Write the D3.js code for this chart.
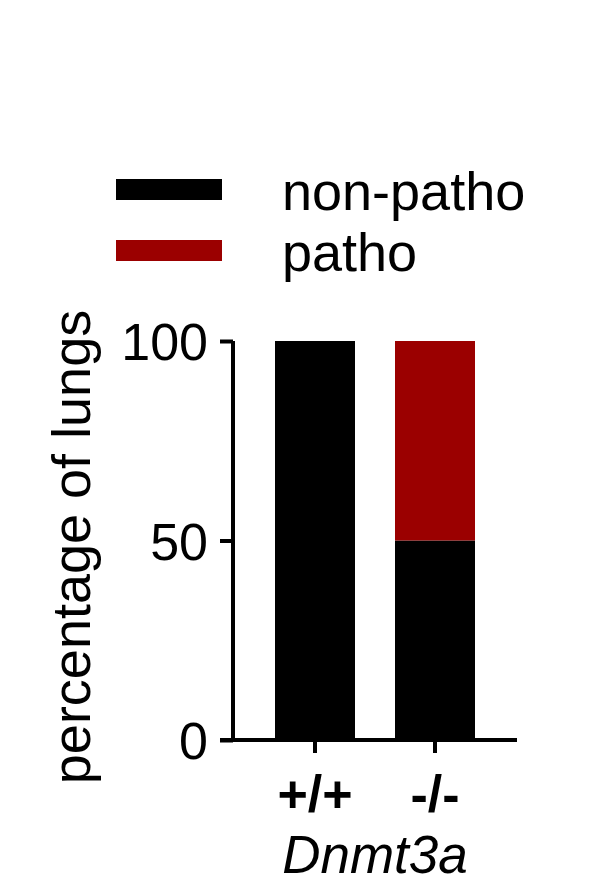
<!DOCTYPE html>
<html>
<head>
<meta charset="utf-8">
<script src="https://cdn.jsdelivr.net/npm/d3@7"></script>
<style>
  body { margin: 0; background: #fff; }
  text { font-family: "Liberation Sans", Arial, sans-serif; fill: #000; }
</style>
</head>
<body>
<svg id="chart" width="595" height="891"></svg>
<script>
const genotypes = ["+/+", "-/-"];
const nonPatho = [100, 50];
const patho = [0, 50];
const yTicks = [0, 50, 100];
const seriesNames = ["non-patho", "patho"];
const seriesColors = ["#000000", "#9b0000"];

const svg = d3.select('#chart');
const fontSize = 52;
const titleSize = 54;

const y = d3.scaleLinear().domain([0, 100]).range([740, 341]);
const x = d3.scaleBand().domain(genotypes).range([255, 495])
  .paddingInner(1/3).paddingOuter(1/6);

// stacked bars
const rows = genotypes.map((g, i) => ({ g, np: nonPatho[i], p: patho[i] }));
const stack = d3.stack().keys(['np', 'p'])(rows);

stack.forEach((layer, li) => {
  svg.append('g').selectAll('rect').data(layer).enter().append('rect')
    .attr('x', d => x(d.data.g))
    .attr('width', x.bandwidth())
    .attr('y', d => y(d[1]))
    .attr('height', d => y(d[0]) - y(d[1]))
    .attr('fill', seriesColors[li]);
});

// y axis
const yAxis = svg.append('g').attr('transform', 'translate(233,0)')
  .call(d3.axisLeft(y).tickValues(yTicks).tickSize(13).tickPadding(12));
yAxis.select('.domain').attr('d', `M0,${y(100)}V${y(0)}`);
yAxis.selectAll('path,line').attr('stroke', '#000').attr('stroke-width', 4);
yAxis.selectAll('text').attr('font-size', fontSize)
  .style('font-family', '"Liberation Sans", Arial, sans-serif').attr('dy', '0.36em');

// x axis
const xAxis = svg.append('g').attr('transform', `translate(0,${y(0)})`)
  .call(d3.axisBottom(x).tickSize(13).tickPadding(22));
xAxis.select('.domain').attr('d', 'M220,0H517');
xAxis.selectAll('path,line').attr('stroke', '#000').attr('stroke-width', 4);
xAxis.selectAll('text').attr('font-size', fontSize).attr('font-weight', 'bold')
  .style('font-family', '"Liberation Sans", Arial, sans-serif');

// x title
svg.append('text').attr('x', 375).attr('y', 873)
  .attr('text-anchor', 'middle').attr('font-size', fontSize + 1)
  .attr('font-style', 'italic').text('Dnmt3a');

// y title
svg.append('text').attr('transform', 'translate(90,547) rotate(-90)')
  .attr('text-anchor', 'middle').attr('font-size', titleSize)
  .text('percentage of lungs');

// legend
const legendY = [190, 251];
seriesNames.forEach((name, i) => {
  svg.append('rect').attr('x', 116).attr('y', legendY[i] - 11)
    .attr('width', 106).attr('height', 21).attr('fill', seriesColors[i]);
  svg.append('text').attr('x', 282).attr('y', legendY[i] + 20)
    .attr('font-size', titleSize).text(name);
});
</script>
</body>
</html>
